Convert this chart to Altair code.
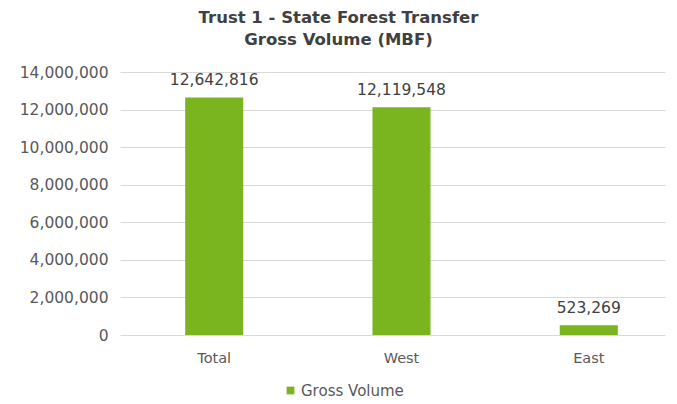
import altair as alt
import pandas as pd

categories = ["Total", "West", "East"]
values = [12642816, 12119548, 523269]
series = ["Gross Volume", "Gross Volume", "Gross Volume"]
y_ticks = [0, 2000000, 4000000, 6000000, 8000000, 10000000, 12000000, 14000000]

df = pd.DataFrame({"category": categories, "value": values, "series": series})

FONT = "DejaVu Sans"
GREEN = "#7ab51f"

base = alt.Chart(df).encode(
    x=alt.X(
        "category:N",
        sort=categories,
        title=None,
        scale=alt.Scale(paddingInner=0.69, paddingOuter=0.3, align=0.58),
        axis=alt.Axis(labelAngle=0, ticks=False, domain=False, grid=False, labelPadding=16,
                      labelFont=FONT, labelFontSize=14.5, labelColor="#595959"),
    ),
    y=alt.Y(
        "value:Q",
        title=None,
        scale=alt.Scale(domain=[0, 14000000], nice=False),
        axis=alt.Axis(values=y_ticks, format=",d", ticks=False, domain=False,
                      labelPadding=12, labelFont=FONT, labelFontSize=15.5,
                      labelColor="#595959", gridColor="#d9d9d9", gridWidth=1),
    ),
)

bars = base.mark_bar(color=GREEN).encode(
    color=alt.Color(
        "series:N",
        scale=alt.Scale(range=[GREEN]),
        legend=alt.Legend(title=None, orient="none", legendX=163, legendY=311,
                          symbolType="square", symbolSize=60, labelFont=FONT,
                          labelFontSize=15, labelColor="#595959", symbolStrokeWidth=0,
                          labelOffset=3),
    )
)

labels = base.mark_text(dy=-9, baseline="bottom", font=FONT, fontSize=15.5,
                        color="#404040").encode(text=alt.Text("value:Q", format=",d"))

chart = (
    alt.layer(bars, labels)
    .properties(
        width=545,
        height=263,
        padding={"left": 112, "top": 64, "right": 4, "bottom": 68},
        autosize=alt.AutoSizeParams(type="none"),
        view=alt.ViewBackground(strokeWidth=0, strokeOpacity=0),
        title=alt.TitleParams(
            ["Trust 1 - State Forest Transfer", "Gross Volume (MBF)"],
            font=FONT, fontSize=16.5, fontWeight="bold", color="#404040",
            lineHeight=22, offset=17, anchor="middle", dx=-54,
        ),
    )
    .configure_view(strokeWidth=0, strokeOpacity=0)
    .configure(background="white")
)

chart.save("out.html", embed_options={"renderer": "svg", "actions": False})
